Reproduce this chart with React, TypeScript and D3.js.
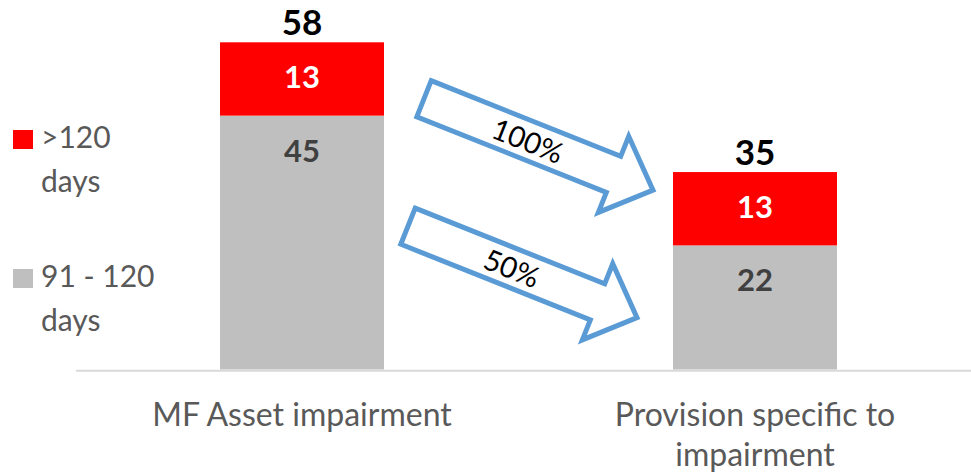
import React from "react";
import * as d3 from "d3";

const categories = ["MF Asset impairment", "Provision specific to impairment"];
const categoryLines = [["MF Asset impairment"], ["Provision specific to", "impairment"]];
const seriesNames = [">120 days", "91 - 120 days"];
const legendLines = [[">120", "days"], ["91 - 120", "days"]];
const over120 = [13, 13];
const days91to120 = [45, 22];
const totals = [58, 35];
const arrowLabels = ["100%", "50%"];
// arrow endpoints in data units (value on the y scale)
const arrowFromValue = [48, 25.4];
const arrowToValue = [31.8, 9.2];

const W = 971;
const H = 472;
const FONT = "Lato, 'Open Sans', sans-serif";

export default function App() {
  const x = d3.scaleBand<string>().domain(categories).range([75.5, 981.5]).paddingInner(0.638).paddingOuter(0.319);
  const y = d3.scaleLinear().domain([0, 58]).range([369.5, 42.3]);
  const bw = x.bandwidth();

  const stack = d3.stack<any>().keys(["gray", "red"])(
    categories.map((c, i) => ({ cat: c, gray: days91to120[i], red: over120[i] }))
  );
  const colors: Record<string, string> = { gray: "#BFBFBF", red: "#FF0000" };
  const labelColors: Record<string, string> = { gray: "#404040", red: "#FFFFFF" };

  const bar0Right = (x(categories[0]) as number) + bw;
  const bar1Left = x(categories[1]) as number;
  const arrowFromX = [bar0Right + 40, bar0Right + 24];
  const arrowToX = [bar1Left - 20, bar1Left - 36];

  return (
    <svg width={W} height={H} style={{ position: "absolute", left: 0, top: 0, background: "#fff" }}>
      {/* axis line */}
      <line x1={76} x2={971} y1={370.7} y2={370.7} stroke="#D9D9D9" strokeWidth={2} />

      {stack.map((layer) => (
        <g key={layer.key}>
          {layer.map((d, i) => (
            <g key={i}>
              <rect
                x={x(categories[i])}
                y={y(d[1])}
                width={bw}
                height={y(d[0]) - y(d[1])}
                fill={colors[layer.key]}
              />
              <text
                x={(x(categories[i]) as number) + bw / 2}
                y={y(d[1]) + 46}
                textAnchor="middle"
                fontFamily={FONT}
                fontWeight={700}
                fontSize={31}
                fill={labelColors[layer.key]}
              >
                {d[1] - d[0]}
              </text>
            </g>
          ))}
        </g>
      ))}

      {totals.map((t, i) => (
        <text
          key={i}
          x={(x(categories[i]) as number) + bw / 2}
          y={y(t) - 7}
          textAnchor="middle"
          fontFamily={FONT}
          fontWeight={700}
          fontSize={35}
          fill="#000"
        >
          {t}
        </text>
      ))}

      {categoryLines.map((lines, i) => (
        <text
          key={i}
          x={(x(categories[i]) as number) + bw / 2}
          y={426}
          textAnchor="middle"
          fontFamily={FONT}
          fontSize={32}
          fill="#595959"
        >
          {lines.map((l, j) => (
            <tspan key={j} x={(x(categories[i]) as number) + bw / 2} y={426 + j * 40}>
              {l}
            </tspan>
          ))}
        </text>
      ))}

      {/* legend */}
      {seriesNames.map((s, i) => {
        const sy = [130, 269][i];
        return (
          <g key={s}>
            <rect x={13} y={sy} width={20} height={19} fill={i === 0 ? "#FF0000" : "#BFBFBF"} />
            {legendLines[i].map((l, j) => (
              <text key={j} x={41} y={sy + 18 + j * 43.5} fontFamily={FONT} fontSize={30} fill="#595959">
                {l}
              </text>
            ))}
          </g>
        );
      })}

      {/* arrows */}
      {arrowLabels.map((lab, i) => {
        const x0 = arrowFromX[i];
        const y0 = y(arrowFromValue[i]);
        const x1 = arrowToX[i];
        const y1 = y(arrowToValue[i]);
        const L = Math.hypot(x1 - x0, y1 - y0);
        const ang = (Math.atan2(y1 - y0, x1 - x0) * 180) / Math.PI;
        const sw = 19.4;
        const hw = 41;
        const hl = 42.5;
        const pts = [
          [0, -sw],
          [L - hl, -sw],
          [L - hl, -hw],
          [L, 0],
          [L - hl, hw],
          [L - hl, sw],
          [0, sw],
        ];
        return (
          <g key={lab} transform={`translate(${x0},${y0}) rotate(${ang})`}>
            <polygon
              points={pts.map((p) => p.join(",")).join(" ")}
              fill="#fff"
              stroke="#5B9BD5"
              strokeWidth={5}
              strokeLinejoin="miter"
            />
            <text
              x={112}
              y={1}
              dy="0.35em"
              textAnchor="middle"
              fontFamily={FONT}
              fontSize={29}
              fill="#000"
            >
              {lab}
            </text>
          </g>
        );
      })}
    </svg>
  );
}
